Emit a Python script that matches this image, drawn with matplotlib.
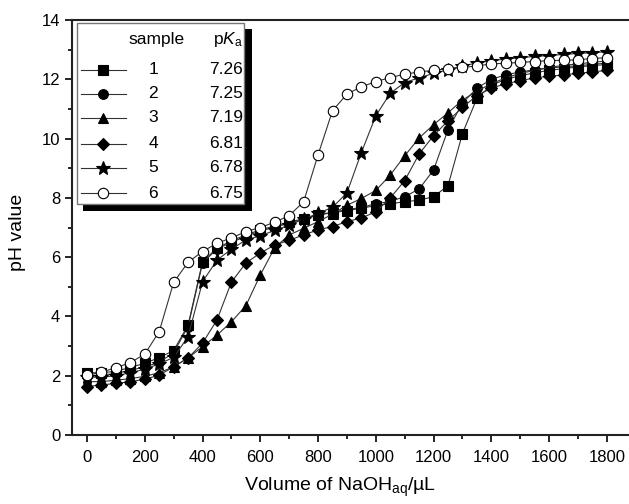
import matplotlib
matplotlib.use('Agg')
import matplotlib.pyplot as plt
from matplotlib.lines import Line2D
from matplotlib.patches import Rectangle
from matplotlib.ticker import MultipleLocator

plt.rcParams['font.family'] = ['Liberation Sans', 'DejaVu Sans']
plt.rcParams['mathtext.fontset'] = 'custom'
plt.rcParams['mathtext.rm'] = 'Liberation Sans'
plt.rcParams['mathtext.it'] = 'Liberation Sans:italic'

# NaOH volume (uL), one reading every 50 uL
volume = list(range(0, 1801, 50))

ph_1 = [2.10, 2.10, 2.15, 2.28, 2.42, 2.61, 2.85, 3.71, 5.85, 6.30, 6.55, 6.75, 6.92,
        7.05, 7.18, 7.30, 7.42, 7.50, 7.57, 7.65, 7.74, 7.80, 7.87, 7.92, 8.04, 8.41,
        10.17, 11.36, 11.80, 12.00, 12.12, 12.22, 12.30, 12.36, 12.42, 12.46, 12.50]
ph_2 = [2.00, 2.02, 2.08, 2.18, 2.30, 2.45, 2.78, 3.66, 5.80, 6.28, 6.50, 6.70, 6.88,
        7.02, 7.14, 7.28, 7.42, 7.52, 7.60, 7.68, 7.80, 7.88, 8.04, 8.30, 8.94, 10.30,
        11.20, 11.70, 12.00, 12.15, 12.25, 12.32, 12.38, 12.42, 12.46, 12.50, 12.55]
ph_3 = [1.80, 1.80, 1.85, 1.90, 1.98, 2.10, 2.30, 2.60, 2.98, 3.37, 3.82, 4.36, 5.40,
        6.32, 6.75, 6.97, 7.20, 7.45, 7.75, 7.98, 8.25, 8.77, 9.42, 10.02, 10.47, 10.87,
        11.30, 11.60, 11.85, 12.05, 12.20, 12.30, 12.40, 12.47, 12.52, 12.57, 12.62]
ph_4 = [1.63, 1.69, 1.74, 1.80, 1.88, 2.02, 2.30, 2.60, 3.10, 3.88, 5.16, 5.80, 6.14,
        6.41, 6.57, 6.75, 6.92, 7.03, 7.20, 7.32, 7.53, 8.00, 8.58, 9.48, 10.10, 10.60,
        11.05, 11.45, 11.70, 11.85, 11.95, 12.05, 12.10, 12.15, 12.20, 12.25, 12.30]
ph_5 = [1.95, 1.95, 2.00, 2.10, 2.22, 2.40, 2.62, 3.32, 5.17, 5.90, 6.27, 6.58, 6.72,
        6.90, 7.08, 7.28, 7.48, 7.68, 8.17, 9.53, 10.77, 11.53, 11.89, 12.05, 12.20, 12.32,
        12.45, 12.55, 12.63, 12.68, 12.73, 12.77, 12.80, 12.84, 12.87, 12.90, 12.93]
ph_6 = [2.02, 2.12, 2.27, 2.44, 2.73, 3.49, 5.15, 5.83, 6.19, 6.47, 6.65, 6.86, 7.00,
        7.18, 7.40, 7.87, 9.45, 10.94, 11.50, 11.75, 11.92, 12.06, 12.17, 12.25, 12.30, 12.36,
        12.40, 12.45, 12.52, 12.54, 12.57, 12.60, 12.63, 12.64, 12.66, 12.70, 12.73]

samples = ['1', '2', '3', '4', '5', '6']
pka = ['7.26', '7.25', '7.19', '6.81', '6.78', '6.75']
series = [ph_1, ph_2, ph_3, ph_4, ph_5, ph_6]

styles = [dict(marker='s', ms=6.5, mfc='black'),
          dict(marker='o', ms=7, mfc='black'),
          dict(marker='^', ms=7.5, mfc='black'),
          dict(marker='D', ms=6.5, mfc='black'),
          dict(marker='*', ms=10, mfc='black'),
          dict(marker='o', ms=7.5, mfc='white')]

W, H = 629, 504
fig = plt.figure(figsize=(W / 100, H / 100), dpi=100)
ax = fig.add_axes([72 / W, 69 / H, 560 / W, 415 / H])

for ph, st in zip(series, styles):
    ax.plot(volume, ph, color='#333333', lw=0.8, mec='black', mew=0.8, **st)

ax.set_xlim(-52, 1887)
ax.set_ylim(0, 14)
ax.xaxis.set_major_locator(MultipleLocator(200))
ax.xaxis.set_minor_locator(MultipleLocator(100))
ax.yaxis.set_major_locator(MultipleLocator(2))
ax.yaxis.set_minor_locator(MultipleLocator(1))
ax.tick_params(which='both', direction='out', width=1.2, labelsize=12)
ax.tick_params(which='major', length=5)
ax.tick_params(which='minor', length=3)
ax.tick_params(axis='x', pad=6)
for sp in ax.spines.values():
    sp.set_linewidth(1.5)
    sp.set_color('#222222')
ax.spines['right'].set_visible(False)

fig.text(340 / W, 1 - 487 / H, 'Volume of NaOH$_\\mathrm{aq}$/\u00b5L', ha='center', va='center', fontsize=14)
fig.text(18 / W, 1 - 232 / H, 'pH value', ha='center', va='center', rotation=90, fontsize=14)

# legend box with drop shadow
tf = fig.transFigure
fig.patches.append(Rectangle((83 / W, 1 - 211 / H), 169 / W, 182 / H, transform=tf,
                             facecolor='black', edgecolor='none', zorder=5))
fig.patches.append(Rectangle((77 / W, 1 - 204 / H), 167 / W, 181 / H, transform=tf,
                             facecolor='white', edgecolor='#777777', lw=1, zorder=6))
fig.text(157 / W, 1 - 40 / H, 'sample', ha='center', va='center', fontsize=12.5, zorder=7)
fig.text(243 / W, 1 - 40 / H, 'p$K_\\mathrm{a}$', ha='right', va='center', fontsize=12.5, zorder=7)
row_y = [70, 94, 118, 144, 168, 193]
for yy, st, s, k in zip(row_y, styles, samples, pka):
    fig.lines.append(Line2D([81 / W, 126 / W], [1 - yy / H, 1 - yy / H], transform=tf,
                            color='#333333', lw=0.8, zorder=7))
    fig.lines.append(Line2D([103 / W], [1 - yy / H], transform=tf, ls='none', mec='black',
                            mew=0.8, zorder=8, **st))
    fig.text(153 / W, 1 - yy / H, s, ha='center', va='center', fontsize=12.5, zorder=7)
    fig.text(243 / W, 1 - yy / H, k, ha='right', va='center', fontsize=12.5, zorder=7)

fig.savefig('out.png', dpi=100)
